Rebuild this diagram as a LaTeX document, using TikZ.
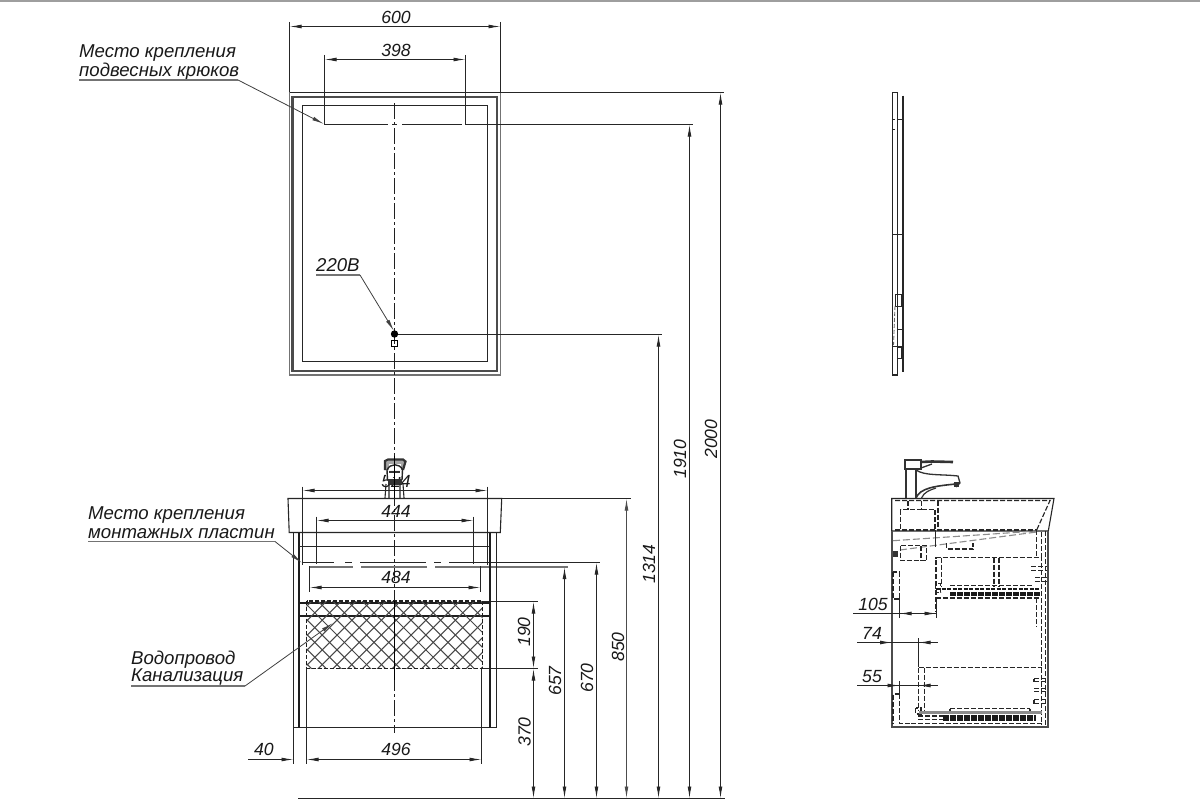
\documentclass[tikz,border=0pt]{standalone}
\usepackage{fontspec}
\setmainfont{Liberation Sans}
\usetikzlibrary{arrows.meta}
\tikzset{
  ln/.style={line width=0.9pt,draw=black!85},
  thk/.style={line width=1.9pt,draw=black!88},
  gry/.style={line width=1.5pt,draw=black!55},
  dsh/.style={line width=1.15pt,draw=black!85,dash pattern=on 5pt off 2pt},
  dshg/.style={line width=1.1pt,draw=black!45,dash pattern=on 7pt off 3pt},
  dk/.style={line width=1.6pt,draw=black!90,dash pattern=on 4pt off 1.5pt},
  ctr/.style={line width=1pt,draw=black!88,dash pattern=on 16pt off 3pt on 3pt off 3pt},
  dim/.style={line width=0.9pt,draw=black!85,{Latex[length=12pt,width=3.8pt]}-{Latex[length=12pt,width=3.8pt]}},
  tipe/.style={line width=0.9pt,draw=black!85,-{Latex[length=12pt,width=3.8pt]}},
  lead/.style={line width=0.8pt,draw=black!75,-{Latex[length=12pt,width=3.8pt]}},
  und/.style={line width=1.2pt,draw=black!55},
  tx/.style={font=\fontsize{17.6}{18}\selectfont\itshape,text=black!90,inner sep=0pt},
  txl/.style={font=\fontsize{18.6}{19}\selectfont\itshape,text=black!90,inner sep=0pt,anchor=west},
}
\begin{document}
\begin{tikzpicture}[x=1pt,y=-1pt]
\useasboundingbox (0,0) rectangle (1200,800);
\fill[white] (0,0) rectangle (1200,800);
\draw[line width=2.2pt,draw=black!38] (0,0.8) -- (1200,0.8);

% ---------- mirror, front
\draw[gry,line width=1.7pt] (289.5,92.5) rectangle (500.5,375);
\draw[line width=2.3pt,draw=black!70] (292.6,96.8) rectangle (497,370.8);
\draw[ln] (302.5,105.5) rectangle (487.5,361.5);
\draw[ctr] (394.5,103) -- (394.5,490);
\draw[ctr] (394.5,490) -- (394.5,600);
\draw[ctr] (394.5,600) -- (394.5,733);
% mirror hook line
\draw[ln] (324.5,124.5) -- (388,124.5) (392,124.5) -- (397,124.5) (402,124.5) -- (462,124.5);
\draw[ln] (465.5,124.5) -- (693,124.5);
% mirror dims
\draw[ln] (289.5,22) -- (289.5,92) (500.5,22) -- (500.5,92);
\draw[dim] (289.5,26.5) -- (500.5,26.5);
\node[tx] (t600) at (396,17.5) {600};
\draw[ln] (324.5,55) -- (324.5,124.5) (465.5,55) -- (465.5,124.5);
\draw[dim] (324.5,59.5) -- (465.5,59.5);
\node[tx] (t398) at (396,50.5) {398};
% outlet
\fill[black] (394.5,334) circle (3.7);
\draw[line width=1.2pt] (391.5,340.5) rectangle (397.5,346.5);
% level extension lines
\draw[ln] (289.5,92.5) -- (724,92.5);
\draw[ln] (398,334.5) -- (662,334.5);
\draw[ln] (288,498.5) -- (631,498.5);
\draw[ln] (302.5,562.5) -- (334,562.5) (345,562.5) -- (352,562.5) (360,562.5) -- (426,562.5) (434,562.5) -- (441,562.5) (449,562.5) -- (600,562.5);
\draw[gry,line width=1.5pt] (309.5,567) -- (353,567) (361,567) -- (427,567) (435,567) -- (568,567);
\draw[ln] (482,601.5) -- (538,601.5);
\draw[ln] (482,668.5) -- (538,668.5);
\draw[line width=1.1pt,draw=black!85] (298,798.5) -- (725,798.5);

% vertical dims
\draw[dim] (533.5,601.5) -- (533.5,668.5);
\draw[dim] (533.5,668.5) -- (533.5,798.5);
\draw[dim] (564.5,567) -- (564.5,798.5);
\draw[dim] (596.5,562.5) -- (596.5,798.5);
\draw[dim,draw=black!70] (626.5,498.5) -- (626.5,798.5);
\draw[dim] (658.5,334.5) -- (658.5,798.5);
\draw[dim] (689.5,124.5) -- (689.5,798.5);
\draw[dim] (720.5,92.5) -- (720.5,798.5);
\node[tx,rotate=90] (t190) at (524,632) {190};
\node[tx,rotate=90] (t370) at (524.5,732) {370};
\node[tx,rotate=90] (t657) at (555,681) {657};
\node[tx,rotate=90] (t670) at (587,678) {670};
\node[tx,rotate=90] (t850) at (618,647) {850};
\node[tx,rotate=90] (t1314) at (649,564) {1314};
\node[tx,rotate=90] (t1910) at (680,459) {1910};
\node[tx,rotate=90] (t2000) at (711,439) {2000};

% ---------- vanity, front
\draw[ln,line width=1.1pt] (288,498.5) -- (501.7,498.5) -- (500.3,532.5) -- (289.2,532.5) -- cycle;
\draw[ln] (293.5,532.5) -- (293.5,727.5) -- (496.5,727.5) -- (496.5,532.5);
\draw[thk] (299,532.5) -- (299,727.5) (490.3,532.5) -- (490.3,727.5);
\draw[ln] (299,546.5) -- (490.3,546.5);
\draw[thk] (299,602.7) -- (490.3,602.7);
\draw[thk] (299,616) -- (490.3,616);
% hatching
\begin{scope}
\clip (306.7,601) rectangle (482.7,668);
\foreach \k in {-24,...,24}{
  \draw[line width=1.05pt,draw=black!72] ({300+\k*14.8},598) -- ({300+\k*14.8+75},673);
  \draw[line width=1.05pt,draw=black!72] ({300+\k*14.8},598) -- ({300+\k*14.8-75},673);
}
\end{scope}
\draw[line width=1.1pt,draw=black!88,dash pattern=on 4pt off 2pt] (306.7,601) rectangle (482.7,668.2);
\draw[ln,draw=black] (394.5,601) -- (394.5,680);
% vanity dims
\draw[ln] (302.5,486.5) -- (302.5,565) (487.5,486.5) -- (487.5,565);
\draw[dim] (302.5,490.5) -- (487.5,490.5);
\node[tx] (t524) at (396,481) {524};
\draw[ln] (316.5,516.5) -- (316.5,564) (473.5,516.5) -- (473.5,564);
\draw[dim] (316.5,520.5) -- (473.5,520.5);
\node[tx] (t444) at (396,511.5) {444};
\draw[ln] (309.5,566) -- (309.5,592) (480.5,566) -- (480.5,592);
\draw[dim] (309.5,587.5) -- (480.5,587.5);
\node[tx] (t484) at (396,577.5) {484};
\draw[ln] (293.5,727.5) -- (293.5,763.5) (306.5,668) -- (306.5,763.5) (481.5,668) -- (481.5,763.5);
\draw[tipe] (248,759.5) -- (293.5,759.5);
\draw[dim] (306.5,759.5) -- (481.5,759.5);
\node[tx] (t40) at (264,749.5) {40};
\node[tx] (t496) at (396,749.5) {496};

% faucet, front
\fill[white] (386,460) rectangle (403,477);
\draw[line width=2.2pt,draw=black!80,fill=black!35] (385,470) -- (385,461) -- (388,459.5) -- (403,459.5) -- (405.5,461.5) -- (403,470);
\fill[white] (389,464) rectangle (401,470);
\draw[line width=1.4pt,draw=black!85] (387.5,480) -- (387,470) .. controls (390,463) and (400,463) .. (402.5,470) -- (402,480);
\fill[black!80] (388,479) rectangle (402,485);
\draw[line width=1.1pt,draw=black!85] (386,484) -- (385,498) (403,484) -- (404,498) (389,484) -- (389,498) (400,484) -- (400,498);
\draw[line width=1.8pt,draw=black!80] (389,472) -- (400,472);
\draw[line width=1.1pt] (394.5,456) -- (394.5,498);

% ---------- mirror, side
\draw[ln,line width=1.1pt] (892.5,92.5) rectangle (897.5,375);
\draw[line width=2.3pt,draw=black!85] (903,95.7) -- (903,371.7);
\draw[ln] (897.5,119.5) -- (903,119.5) (892.5,119.5) -- (895,119.5) (892.5,129.5) -- (895,129.5) (893,234.5) -- (902,234.5);
\draw[ln] (895.5,294.5) rectangle (901.5,306.5);
\draw[ln,draw=black!60,dash pattern=on 4pt off 2pt] (895,306) -- (893.5,345);
\draw[ln] (897.5,329.5) -- (903,329.5) (893,346.5) -- (902,346.5) (897.5,347.5) rectangle (901.5,358.5);

% ---------- vanity, side
\draw[ln,line width=1.1pt] (891.7,498.5) -- (1054,498.5) -- (1048.3,531) -- (891.7,531) -- cycle;
\draw[line width=1.8pt,draw=black!70] (892,531) -- (892,727) -- (1048.3,727) -- (1048.3,531);
\draw[dsh] (895,500.5) -- (1050,500.5) -- (1036.7,530);
\draw[dsh] (895,530) -- (1036.7,530);
\draw[dsh] (908,500.5) -- (908,509.5) (921.5,500.5) -- (921.5,509.5);
\draw[dsh] (921.5,509.5) -- (900.5,509.5) -- (900.5,530);
\draw[dsh] (921.5,509.5) -- (935,509.5) -- (935,530) (938,500.5) -- (938,530);
\draw[dshg] (893,540.7) -- (1036.7,531);
\draw[dshg] (900,550) -- (1036.7,532);
\draw[ln,draw=black!85] (935.5,530) -- (935.5,547);
\draw[dsh] (900.5,545.5) rectangle (926.5,560.5);
\draw[dsh] (921,546) -- (921,560.5);
\fill[black!80] (893,551) rectangle (898,557);
\draw[dsh] (946.5,543) -- (946.5,549) -- (973,549) -- (973,543);
% upper drawer
\draw[dsh] (936,586) -- (936,557.5) -- (1042,557.5);
\draw[dsh] (941.5,557.5) -- (941.5,586);
\draw[dsh] (994,557.5) -- (994,586) (999,557.5) -- (999,586);
\draw[dsh] (1036.5,530) -- (1036.5,556) (1041.5,532) -- (1041.5,556);
\draw[dsh] (1041.5,556) -- (1041.5,725);
\draw[dsh] (1045.5,531) -- (1045.5,726);
\draw[dsh] (1031,566.5) -- (1047,566.5) (1031,570.5) -- (1047,570.5) (1035,577.5) -- (1047,577.5) (1035,581.5) -- (1047,581.5);
\draw[dsh] (935.5,583.5) rectangle (940.5,592.5);
\draw[dsh] (950,585.5) -- (1033,585.5);
\draw[dk,line width=1.5pt] (936,589) -- (1040,589);
\draw[dk,line width=4.4pt,dash pattern=on 6pt off 1pt] (950,594) -- (1040,594);
\draw[dsh] (936,598) -- (1040,598);
\draw[dsh] (1036.5,598) -- (1036.5,627) (1041.5,598) -- (1041.5,627);
\draw[dsh] (936,590) -- (936,612);
% left column upper
\draw[dsh] (893,572) rectangle (899.5,599);
% lower drawer
\draw[dsh] (918.5,667.5) -- (1041.5,667.5);
\draw[dsh] (918.5,667.5) -- (918.5,710) (924.5,667.5) -- (924.5,711);
\draw[dsh] (915.5,708) rectangle (921,714);
\draw[line width=3.4pt,draw=black!45] (919,712.5) -- (1042,712.5);
\draw[dsh] (950,708.5) -- (1030,708.5) (950,708.5) -- (950,711) (1030,708.5) -- (1030,711);
\draw[dk,line width=6.5pt,dash pattern=on 6pt off 1pt] (943,718) -- (1036,718);
\draw[dsh] (918,716) -- (943,716);
\draw[dsh] (918,719.5) -- (943,719.5);
\draw[dsh] (911,723.5) -- (1042,723.5);
\draw[dsh] (1034,678.5) -- (1047,678.5) (1034,681.5) -- (1047,681.5) (1034,678.5) -- (1034,681.5);
\draw[dsh] (1034,688.5) -- (1047,688.5) (1034,691.5) -- (1047,691.5);
\draw[dsh] (1034,699.5) -- (1047,699.5) (1034,703.5) -- (1047,703.5) (1034,699.5) -- (1034,703.5);
% left column lower
\draw[dsh] (899.5,694) -- (893,694) -- (893,723) (899.5,694) -- (899.5,723.5) -- (911,723.5);
% faucet, side
\draw[line width=1.2pt,draw=black!80,fill=white] (906,469) -- (906,498) (916,469) -- (916,498);
\draw[line width=1.6pt,draw=black!80,fill=white] (905,460) -- (921,460) -- (921,469) -- (905,469) -- cycle;
\draw[line width=2.6pt,draw=black!80] (921,462) -- (932,461.5) -- (953,462);
\draw[line width=1.3pt,draw=black!80] (921,468) -- (932,464) (916,470) .. controls (925,476) and (940,474) .. (958,476) -- (960,483) -- (956,487);
\draw[line width=1.6pt,draw=black!80] (916,498) .. controls (920,488) and (935,486) .. (956,484);
\draw[line width=1.2pt,draw=black!80] (921.5,498) .. controls (924,492) and (930,490) .. (936,488);
\fill[black!80] (954,482) rectangle (959,487);

% side dims
\draw[ln] (899.5,598) -- (899.5,618) (936.5,598) -- (936.5,618);
\draw[ln] (853,613.5) -- (936.5,613.5);
\draw[tipe] (915,613.5) -- (899.5,613.5);
\draw[tipe] (920,613.5) -- (936.5,613.5);
\node[tx] (t105) at (873,604.5) {105};
\draw[ln] (918.5,638) -- (918.5,667);
\draw[ln] (857,642.5) -- (938,642.5);
\draw[tipe] (877,642.5) -- (892,642.5);
\draw[tipe] (933,642.5) -- (918.5,642.5);
\node[tx] (t74) at (872,633.5) {74};
\draw[ln] (899.5,681) -- (899.5,694);
\draw[ln] (857,685.5) -- (938,685.5);
\draw[tipe] (885,685.5) -- (899.5,685.5);
\draw[tipe] (933,685.5) -- (918.5,685.5);
\node[tx] (t55) at (872,676.5) {55};

% ---------- leaders
\node[txl] (lh1) at (79,53) {Место крепления};
\node[txl] (lh2) at (79,71.5) {подвесных крюков};
\draw[und] (79,80) -- (238,80);
\coordinate (hookpt) at (324,124);
\draw[lead] (238,80) -- (hookpt);
\node[txl] (lv) at (316,265) {220В};
\draw[und] (316,275) -- (360,275);
\coordinate (powerpt) at (394,331);
\draw[lead] (360,275) -- (powerpt);
\node[txl] (lm1) at (88,515.5) {Место крепления};
\node[txl] (lm2) at (88,533.5) {монтажных пластин};
\draw[und] (88,541.5) -- (275,541.5);
\coordinate (platept) at (302,563);
\draw[lead] (275,541.5) -- (platept);
\node[txl] (lw1) at (131,659.5) {Водопровод};
\node[txl] (lw2) at (131,677) {Канализация};
\draw[und] (131,686) -- (245,686);
\coordinate (pipept) at (333,623);
\draw[lead] (245,686) -- (pipept);
\end{tikzpicture}
\end{document}
